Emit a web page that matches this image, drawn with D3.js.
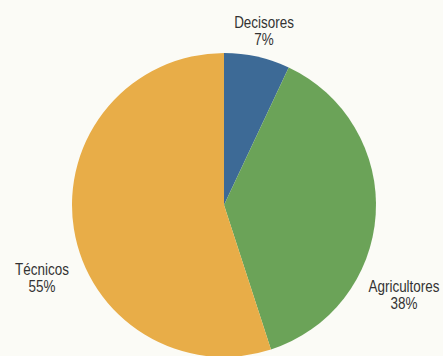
<!DOCTYPE html>
<html>
<head>
<meta charset="utf-8">
<script src="https://cdn.jsdelivr.net/npm/d3@7"></script>
<style>
  html, body { margin: 0; padding: 0; background: #fbfbf6; }
  svg { display: block; }
  text { font-family: "Liberation Sans", Arial, sans-serif; fill: #333333; }
</style>
</head>
<body>
<svg id="chart" width="443" height="356"></svg>
<script>
// Distribution of participants by group
const categories = ["Decisores", "Agricultores", "Técnicos"];
const shares = [7, 38, 55];
const colors = ["#3d6a96", "#6ba358", "#e8ad48"];

const width = 443, height = 356;
const cx = 224, cy = 205, radius = 152;

const svg = d3.select("#chart");
const g = svg.append("g").attr("transform", `translate(${cx},${cy})`);

const pie = d3.pie().sort(null).value(d => d.value);
const arc = d3.arc().innerRadius(0).outerRadius(radius);
const data = pie(categories.map((c, i) => ({ name: c, value: shares[i], color: colors[i] })));

g.selectAll("path.slice")
  .data(data)
  .join("path")
  .attr("class", "slice")
  .attr("d", arc)
  .attr("fill", d => d.data.color);

// Label anchors (relative to the pie centre), placed outside each slice
const labelAnchor = {
  "Decisores":    [40, -177],
  "Agricultores": [180, 87],
  "Técnicos":     [-182, 70]
};

// Condensed look: narrow the labels horizontally
const labelGroups = g.selectAll("g.lbl")
  .data(data)
  .join("g")
  .attr("class", "lbl")
  .attr("transform", d => `translate(${labelAnchor[d.data.name][0]},${labelAnchor[d.data.name][1]}) scale(0.8,1)`);

labelGroups.append("text")
  .attr("text-anchor", "middle")
  .attr("font-size", 16.8)
  .text(d => d.data.name);

labelGroups.append("text")
  .attr("text-anchor", "middle")
  .attr("font-size", 16.8)
  .attr("y", 17)
  .text(d => d.data.value + "%");
</script>
</body>
</html>
